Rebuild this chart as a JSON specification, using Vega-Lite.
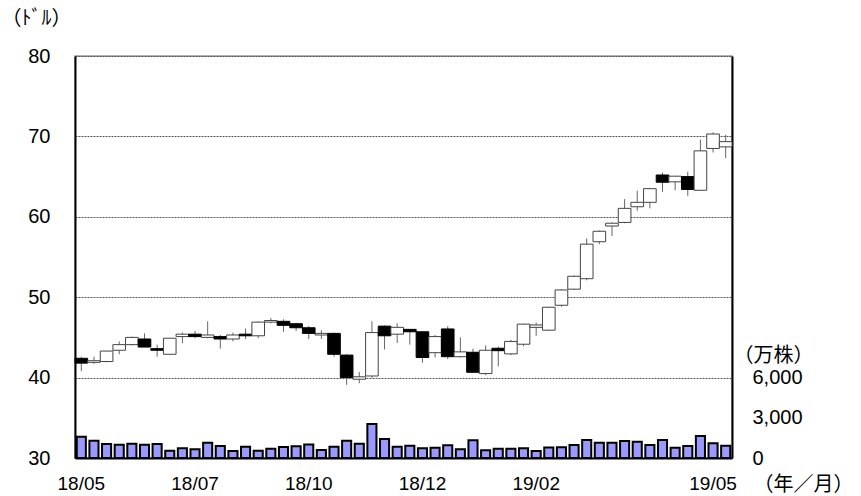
{
  "$schema": "https://vega.github.io/schema/vega-lite/v6.json",
  "width": 657,
  "height": 402,
  "autosize": {"type": "none"},
  "padding": {"left": 75, "top": 56, "right": 129, "bottom": 38},
  "background": "white",
  "config": {
    "view": {"stroke": "#999", "strokeWidth": 1.5},
    "axis": {"labelFont": "Liberation Sans", "labelFontSize": 20, "labelColor": "#000", "titleFont": "Noto Sans CJK JP", "titleFontSize": 20, "titleFontWeight": "normal", "titleColor": "#000"}
  },
  "data": {"values": [
    {"w":0,"o":42.4,"h":42.6,"l":40.8,"c":41.8,"v":1590},
    {"w":1,"o":41.9,"h":42.6,"l":41.7,"c":42.1,"v":1290},
    {"w":2,"o":42.0,"h":43.3,"l":41.9,"c":43.3,"v":1045},
    {"w":3,"o":43.4,"h":44.5,"l":42.9,"c":44.1,"v":990},
    {"w":4,"o":44.1,"h":45.1,"l":44.0,"c":45.0,"v":1070},
    {"w":5,"o":44.8,"h":45.5,"l":43.8,"c":43.8,"v":990},
    {"w":6,"o":43.6,"h":44.1,"l":42.6,"c":43.4,"v":1045},
    {"w":7,"o":42.9,"h":44.9,"l":42.9,"c":44.9,"v":545},
    {"w":8,"o":45.1,"h":45.6,"l":44.3,"c":45.4,"v":720},
    {"w":9,"o":45.4,"h":45.8,"l":44.9,"c":45.1,"v":650},
    {"w":10,"o":45.0,"h":47.0,"l":44.9,"c":45.3,"v":1140},
    {"w":11,"o":45.1,"h":45.3,"l":43.6,"c":44.8,"v":895},
    {"w":12,"o":44.8,"h":45.6,"l":44.5,"c":45.3,"v":520},
    {"w":13,"o":45.4,"h":46.1,"l":44.8,"c":45.2,"v":845},
    {"w":14,"o":45.2,"h":47.0,"l":44.9,"c":46.9,"v":545},
    {"w":15,"o":46.9,"h":47.4,"l":46.75,"c":47.1,"v":695},
    {"w":16,"o":47.0,"h":47.25,"l":45.7,"c":46.5,"v":820},
    {"w":17,"o":46.7,"h":46.8,"l":45.8,"c":46.2,"v":870},
    {"w":18,"o":46.2,"h":46.4,"l":44.8,"c":45.5,"v":1000},
    {"w":19,"o":45.3,"h":45.9,"l":44.8,"c":45.5,"v":600},
    {"w":20,"o":45.5,"h":45.6,"l":42.6,"c":42.9,"v":845},
    {"w":21,"o":42.8,"h":42.9,"l":39.1,"c":40.0,"v":1290},
    {"w":22,"o":39.8,"h":40.7,"l":39.3,"c":40.1,"v":1070},
    {"w":23,"o":40.2,"h":47.0,"l":40.0,"c":45.6,"v":2536},
    {"w":24,"o":46.4,"h":46.5,"l":43.5,"c":45.2,"v":1417},
    {"w":25,"o":45.4,"h":46.75,"l":44.3,"c":46.25,"v":845},
    {"w":26,"o":46.0,"h":46.0,"l":44.1,"c":45.7,"v":920},
    {"w":27,"o":45.7,"h":45.7,"l":41.85,"c":42.5,"v":720},
    {"w":28,"o":43.1,"h":45.3,"l":42.5,"c":45.1,"v":770},
    {"w":29,"o":46.05,"h":46.4,"l":42.3,"c":42.6,"v":945},
    {"w":30,"o":42.6,"h":45.0,"l":42.5,"c":43.2,"v":650},
    {"w":31,"o":43.15,"h":43.6,"l":40.6,"c":40.66,"v":1320},
    {"w":32,"o":40.5,"h":44.0,"l":40.3,"c":43.4,"v":570},
    {"w":33,"o":43.65,"h":43.85,"l":41.4,"c":43.35,"v":695},
    {"w":34,"o":42.95,"h":44.7,"l":42.8,"c":44.5,"v":695},
    {"w":35,"o":44.15,"h":46.7,"l":43.9,"c":46.65,"v":730},
    {"w":36,"o":46.25,"h":46.85,"l":45.2,"c":46.55,"v":530},
    {"w":37,"o":45.9,"h":48.8,"l":45.8,"c":48.75,"v":780},
    {"w":38,"o":49.0,"h":51.0,"l":48.8,"c":50.9,"v":795},
    {"w":39,"o":51.0,"h":52.7,"l":50.9,"c":52.6,"v":970},
    {"w":40,"o":52.3,"h":57.3,"l":52.1,"c":56.6,"v":1340},
    {"w":41,"o":56.9,"h":58.3,"l":56.6,"c":58.2,"v":1140},
    {"w":42,"o":58.85,"h":59.3,"l":57.6,"c":59.2,"v":1140},
    {"w":43,"o":59.3,"h":62.2,"l":59.2,"c":61.05,"v":1270},
    {"w":44,"o":61.25,"h":63.25,"l":60.75,"c":61.8,"v":1220},
    {"w":45,"o":61.8,"h":63.6,"l":61.05,"c":63.5,"v":970},
    {"w":46,"o":65.2,"h":65.5,"l":63.1,"c":64.3,"v":1340},
    {"w":47,"o":64.35,"h":65.1,"l":63.3,"c":65.05,"v":770},
    {"w":48,"o":65.0,"h":65.6,"l":62.6,"c":63.4,"v":895},
    {"w":49,"o":63.3,"h":69.6,"l":63.3,"c":68.2,"v":1640},
    {"w":50,"o":68.5,"h":70.5,"l":68.0,"c":70.3,"v":1095},
    {"w":51,"o":68.7,"h":70.2,"l":67.3,"c":69.35,"v":920}
  ]},
  "encoding": {
    "x": {
      "field": "w", "type": "ordinal",
      "scale": {"paddingInner": 0, "paddingOuter": 0},
      "axis": {
        "values": [0, 9, 18, 27, 36, 50],
        "bandPosition": 0.15,
        "labelExpr": "datum.value==0?'18/05':datum.value==9?'18/07':datum.value==18?'18/10':datum.value==27?'18/12':datum.value==36?'19/02':'19/05'",
        "labelAngle": 0, "labelAlign": "center", "labelPadding": 16, "labelFontSize": 19,
        "ticks": false, "domainColor": "#000", "domainWidth": 2,
        "title": "（年／月）", "titleX": 678, "titleY": 26, "titleAlign": "left", "titleBaseline": "middle", "titleAnchor": null
      }
    }
  },
  "layer": [
    {
      "layer": [
        {
          "mark": {"type": "rule", "color": "#666", "strokeWidth": 1},
          "encoding": {
            "y": {"field": "l", "type": "quantitative", "scale": {"domain": [30, 80], "nice": false, "zero": false},
              "axis": {
                "values": [30, 40, 50, 60, 70, 80], "grid": true, "gridDash": [2, 1], "gridColor": "#555", "gridWidth": 1,
                "ticks": false, "labelPadding": 25, "domainColor": "#000", "domainWidth": 2,
                "title": "（ﾄﾞﾙ）", "titleAngle": 0, "titleX": -74, "titleY": -38, "titleAlign": "left", "titleBaseline": "middle", "titleAnchor": null
              }},
            "y2": {"field": "h"}
          }
        },
        {
          "mark": {"type": "bar", "width": {"band": 1}, "strokeWidth": 1},
          "encoding": {
            "y": {"field": "o", "type": "quantitative"},
            "y2": {"field": "c"},
            "fill": {"condition": {"test": "datum.c < datum.o", "value": "#000"}, "value": "#fff"},
            "stroke": {"condition": {"test": "datum.c < datum.o", "value": "#000"}, "value": "#444"}
          }
        }
      ]
    },
    {
      "mark": {"type": "bar", "width": {"band": 0.72}, "fill": "#9999FF", "stroke": "#000", "strokeWidth": 2},
      "encoding": {
        "y": {"field": "v", "type": "quantitative", "scale": {"domain": [0, 30000], "nice": false},
          "axis": {
            "orient": "right", "values": [0, 3000, 6000], "format": ",.0f", "grid": false, "ticks": false,
            "labelPadding": 20, "domainColor": "#000", "domainWidth": 2,
            "title": "（万株）", "titleAngle": 0, "titleX": 1, "titleY": 299, "titleAlign": "left", "titleBaseline": "middle", "titleAnchor": null
          }}
      }
    }
  ],
  "resolve": {"scale": {"y": "independent"}}
}
